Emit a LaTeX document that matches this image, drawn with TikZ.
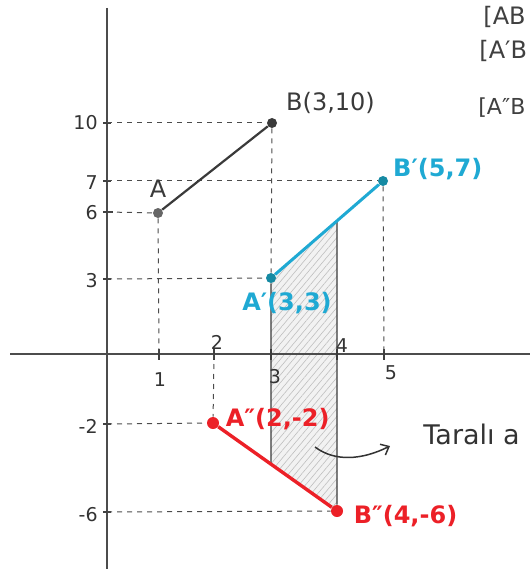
\documentclass[tikz,border=0pt]{standalone}
\usepackage{fontspec}
\setmainfont{DejaVu Sans}
\usetikzlibrary{positioning,arrows.meta,patterns.meta,backgrounds}
\definecolor{penblue}{HTML}{1FA9D3}
\definecolor{penteal}{HTML}{168AA3}
\definecolor{penred}{HTML}{EC2027}
\definecolor{pencil}{HTML}{3A3A3A}
\begin{document}
\begin{tikzpicture}[x=1pt, y=-1pt, thick]
  \tikzstyle{axisline} = [line width=2pt, color=black!70]
  \tikzstyle{guideline} = [dash pattern=on 5pt off 5pt, line width=1pt, color=black!70]
  \tikzstyle{tickmark} = [line width=1.3pt, color=black!75]
  \tikzstyle{ptdot} = [circle, inner sep=0pt, minimum size=10pt]
  \tikzstyle{numlbl} = [inner sep=0pt, font=\fontsize{19}{19}\selectfont, text=black!80]
  \tikzstyle{ptlbl} = [inner sep=0pt, font=\fontsize{24}{24}\selectfont]
  \tikzstyle{penlbl} = [inner sep=0pt, font=\fontsize{24}{24}\selectfont\bfseries]
  \useasboundingbox (0,0) rectangle (530,569);

  \coordinate (xL) at (10,354);
  \coordinate (xR) at (530,354);
  \coordinate (yT) at (107,8);
  \coordinate (yB) at (107,569);
  \coordinate (x1) at (159,354);
  \coordinate (x2) at (214,354);
  \coordinate (x3) at (271,354);
  \coordinate (x4) at (337,354);
  \coordinate (x5) at (384,354);
  \coordinate (y10) at (107,123);
  \coordinate (y7) at (107,181);
  \coordinate (y6) at (107,212);
  \coordinate (y3) at (107,279);
  \coordinate (ym2) at (107,424);
  \coordinate (ym6) at (107,512);

  \node[ptdot, fill=black!60] (A) at (158,213) {};
  \node[ptdot, fill=pencil] (B) at (272,123) {};
  \node[ptdot, fill=penteal] (A1) at (271,278) {};
  \node[ptdot, fill=penteal] (B1) at (383,181) {};
  \node[ptdot, fill=penred, minimum size=12pt] (A2) at (213,423) {};
  \node[ptdot, fill=penred, minimum size=12pt] (B2) at (337,511) {};

  \coordinate (s1) at (intersection of A1--B1 and x4--B2);
  \coordinate (s2) at (intersection of A1--x3 and A2--B2);

  \begin{scope}[on background layer]
    \fill[gray!10] (A1.center) -- (s1) -- (B2.center) -- (s2) -- cycle;
    \fill[pattern={Lines[angle=50, distance=5pt, line width=0.6pt]}, pattern color=gray!50]
      (A1.center) -- (s1) -- (B2.center) -- (s2) -- cycle;
  \end{scope}

  \draw[axisline] (xL) -- (xR);
  \draw[axisline] (yT) -- (yB);

  \draw[tickmark] ([xshift=-4pt]y10) -- ([xshift=4pt]y10);
  \draw[tickmark] ([xshift=-4pt]y7) -- ([xshift=4pt]y7);
  \draw[tickmark] ([xshift=-4pt]y6) -- ([xshift=6pt]y6);
  \draw[tickmark] ([xshift=-4pt]y3) -- ([xshift=4pt]y3);
  \draw[tickmark] ([xshift=-4pt]ym2) -- ([xshift=4pt]ym2);
  \draw[tickmark] ([xshift=-4pt]ym6) -- ([xshift=4pt]ym6);
  \draw[tickmark] ([yshift=5pt]x1) -- ([yshift=-6pt]x1);
  \draw[tickmark] ([yshift=5pt]x2) -- ([yshift=-6pt]x2);
  \draw[tickmark] ([yshift=5pt]x3) -- ([yshift=-6pt]x3);
  \draw[tickmark] ([yshift=5pt]x4) -- ([yshift=-6pt]x4);
  \draw[tickmark] ([yshift=5pt]x5) -- ([yshift=-6pt]x5);

  \node[numlbl, anchor=east] (ny10) at (98,123) {10};
  \node[numlbl, anchor=east] (ny7) at (98,183) {7};
  \node[numlbl, anchor=east] (ny6) at (98,213) {6};
  \node[numlbl, anchor=east] (ny3) at (98,281) {3};
  \node[numlbl, anchor=east] (nym2) at (98,426) {-2};
  \node[numlbl, anchor=east] (nym6) at (98,515) {-6};
  \node[numlbl] (nx1) at (160,380) {1};
  \node[numlbl] (nx2) at (217,342) {2};
  \node[numlbl] (nx3) at (275,377) {3};
  \node[numlbl] (nx4) at (342,346) {4};
  \node[numlbl] (nx5) at (391,373) {5};

  \draw[guideline] (y10) -- (B);
  \draw[guideline] (y7) -- (B1);
  \draw[guideline] (y6) -- (A);
  \draw[guideline] (y3) -- (A1);
  \draw[guideline] (ym2) -- (A2);
  \draw[guideline] (ym6) -- (B2);
  \draw[guideline] (A) -- (x1);
  \draw[guideline] (B) -- (A1);
  \draw[guideline] (B1) -- (x5);
  \draw[guideline] (x2) -- (A2);

  \draw[line width=1.2pt, pencil] (A1) -- (s2);
  \draw[line width=1.2pt, pencil] (s1) -- (B2);

  \draw[line width=2.2pt, pencil] (A) -- (B);
  \draw[line width=3pt, penblue] (A1) -- (B1);
  \draw[line width=3.4pt, penred] (A2) -- (B2);

  \node[ptlbl, text=pencil, above=10pt of A] (labA) {A};
  \node[ptlbl, text=pencil, above right=5pt and 10pt of B] (labB) {B(3,10)};
  \node[penlbl, text=penblue, above right=-3pt and 6pt of B1] (labB1) {B′(5,7)};
  \node[penlbl, text=penblue, below=8pt of A1, xshift=16pt] (labA1) {A′(3,3)};
  \node[penlbl, text=penred, right=6pt of A2, yshift=4pt] (labA2) {A″(2,-2)};
  \node[penlbl, text=penred, right=10pt of B2, yshift=-5pt] (labB2) {B″(4,-6)};

  \coordinate (arrS) at (315,447);
  \coordinate (arrE) at (390,446);
  \draw[line width=1.5pt, black!80, -{Straight Barb[length=7pt, width=12pt]}]
    (arrS) .. controls (335,462) and (362,460) .. (arrE);
  \node[anchor=west, inner sep=0pt, font=\fontsize{27}{27}\selectfont, text=black!80] (note) at (423,434) {Taralı a};

  \node[ptlbl, anchor=west, text=black!75] (seg1) at (483,17) {[AB};
  \node[ptlbl, anchor=west, text=black!75] (seg2) at (479,51) {[A′B};
  \node[anchor=west, inner sep=0pt, font=\fontsize{22}{22}\selectfont, text=black!75] (seg3) at (478,108) {[A″B};
\end{tikzpicture}
\end{document}
